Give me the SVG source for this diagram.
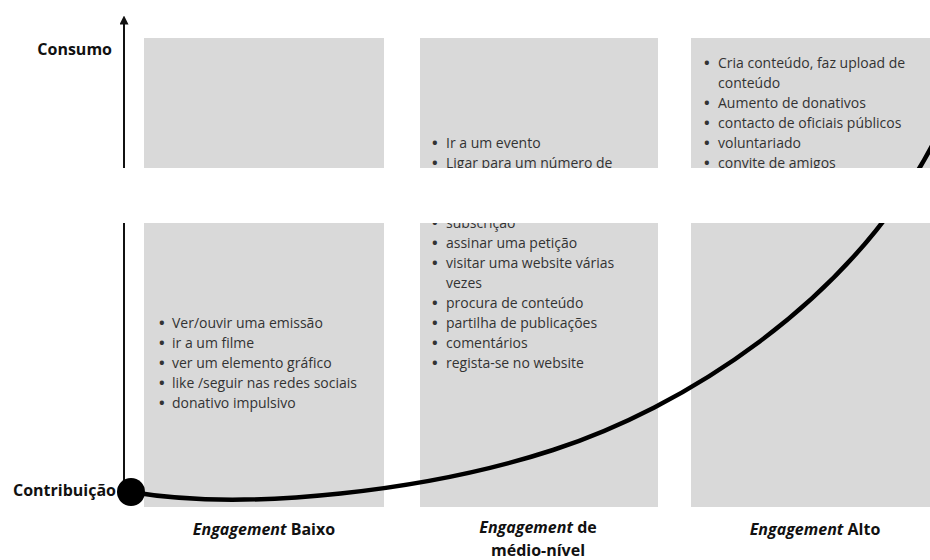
<svg xmlns="http://www.w3.org/2000/svg" width="930" height="560" viewBox="0 0 930 560">
<style>
.box{fill:#d9d9d9}
.t{font-family:"Open Sans","Noto Sans",sans-serif;font-size:14px;fill:#333}
.b{font-weight:bold;font-size:15px}
.lbl{font-family:"Open Sans","Noto Sans",sans-serif;font-size:16px;font-weight:bold;fill:#111}
.it{font-style:italic}
</style>
<defs>
<marker id="arr" viewBox="0 0 10 10" refX="5" refY="5" markerWidth="4.5" markerHeight="4.5" orient="auto">
<path d="M0,0 L10,5 L0,10 z" fill="#111"/>
</marker>
</defs>
<rect width="930" height="560" fill="#fff"/>
<g id="box-baixo">
<rect class="box" x="144" y="38" width="240" height="469"/>
<text class="t" x="159" y="328"><tspan class="b">•</tspan><tspan x="172">Ver/ouvir uma emissão</tspan></text>
<text class="t" x="159" y="348"><tspan class="b">•</tspan><tspan x="172">ir a um filme</tspan></text>
<text class="t" x="159" y="368"><tspan class="b">•</tspan><tspan x="172">ver um elemento gráfico</tspan></text>
<text class="t" x="159" y="388"><tspan class="b">•</tspan><tspan x="172">like /seguir nas redes sociais</tspan></text>
<text class="t" x="159" y="408"><tspan class="b">•</tspan><tspan x="172">donativo impulsivo</tspan></text>
</g>
<g id="box-medio">
<rect class="box" x="420" y="38" width="238" height="469"/>
<text class="t" x="432" y="148"><tspan class="b">•</tspan><tspan x="446">Ir a um evento</tspan></text>
<text class="t" x="432" y="168"><tspan class="b">•</tspan><tspan x="446">Ligar para um número de</tspan></text>
<text class="t" x="432" y="228"><tspan class="b">•</tspan><tspan x="446">subscrição</tspan></text>
<text class="t" x="432" y="248"><tspan class="b">•</tspan><tspan x="446">assinar uma petição</tspan></text>
<text class="t" x="432" y="268"><tspan class="b">•</tspan><tspan x="446">visitar uma website várias</tspan></text>
<text class="t" x="446" y="288">vezes</text>
<text class="t" x="432" y="308"><tspan class="b">•</tspan><tspan x="446">procura de conteúdo</tspan></text>
<text class="t" x="432" y="328"><tspan class="b">•</tspan><tspan x="446">partilha de publicações</tspan></text>
<text class="t" x="432" y="348"><tspan class="b">•</tspan><tspan x="446">comentários</tspan></text>
<text class="t" x="432" y="368"><tspan class="b">•</tspan><tspan x="446">regista-se no website</tspan></text>
</g>
<g id="box-alto">
<rect class="box" x="691" y="38" width="239" height="469"/>
<text class="t" x="704" y="68"><tspan class="b">•</tspan><tspan x="718">Cria conteúdo, faz upload de</tspan></text>
<text class="t" x="718" y="88">conteúdo</text>
<text class="t" x="704" y="108"><tspan class="b">•</tspan><tspan x="718">Aumento de donativos</tspan></text>
<text class="t" x="704" y="128"><tspan class="b">•</tspan><tspan x="718">contacto de oficiais públicos</tspan></text>
<text class="t" x="704" y="148"><tspan class="b">•</tspan><tspan x="718">voluntariado</tspan></text>
<text class="t" x="704" y="168"><tspan class="b">•</tspan><tspan x="718">convite de amigos</tspan></text>
</g>
<g id="connectors">
<line x1="124" y1="492" x2="124" y2="20" stroke="#111" stroke-width="2" marker-end="url(#arr)"/>
<path d="M131,492 C250,512 430,490 553,450 C680,409 850,305 935,140" fill="none" stroke="#000" stroke-width="4.5"/>
</g>
<rect id="band" x="0" y="168" width="930" height="55" fill="#fff"/>
<g id="origin">
<circle cx="131" cy="492" r="14" fill="#000"/>
</g>
<g id="labels">
<text class="lbl" x="112" y="55" text-anchor="end">Consumo</text>
<text class="lbl" x="116" y="496" text-anchor="end">Contribuição</text>
<text class="lbl" x="264" y="535" text-anchor="middle"><tspan class="it">Engagement</tspan> Baixo</text>
<text class="lbl" text-anchor="middle"><tspan x="538" y="533"><tspan class="it">Engagement</tspan> de</tspan><tspan x="538" y="555.5">médio-nível</tspan></text>
<text class="lbl" x="815" y="535" text-anchor="middle"><tspan class="it">Engagement</tspan> Alto</text>
</g>
</svg>
